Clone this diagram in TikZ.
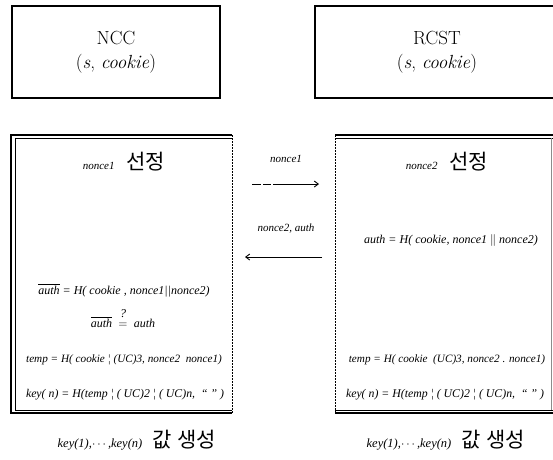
\documentclass[tikz,border=0pt]{standalone}
\usepackage{fontspec}
\usepackage{amsmath}
\newfontfamily\tms{Liberation Serif}
\newfontfamily\kr{Noto Sans CJK KR}
\usetikzlibrary{arrows.meta}
\newcommand{\krbig}[1]{{\kr\upshape\fontsize{21}{24}\selectfont #1}}
\begin{document}
\begin{tikzpicture}[x=1pt,y=-1pt,
  fml/.style={font=\tms\itshape\fontsize{12}{14}\selectfont, inner sep=0pt},
  fmls/.style={font=\tms\itshape\fontsize{11.2}{14}\selectfont, inner sep=0pt},
  fmlk/.style={font=\tms\itshape\fontsize{11.8}{14}\selectfont, inner sep=0pt},
  lbl/.style={font=\tms\itshape\fontsize{11}{13}\selectfont, inner sep=0pt},
  lblb/.style={font=\tms\itshape\fontsize{12.5}{14}\selectfont, inner sep=0pt},
  head/.style={font=\fontsize{19}{24}\selectfont, align=center, inner sep=0pt},
  arr/.style={line width=0.9pt, -{Straight Barb[length=4pt,width=6pt]}},
  outer/.style={line width=1.5pt},
  inner/.style={line width=0.9pt},
  dashedge/.style={line width=0.8pt, dash pattern=on 2pt off 1pt},
  thinedge/.style={line width=0.5pt, black!45}
]
\useasboundingbox (0,0) rectangle (553,459);

% top boxes
\node[draw, line width=2pt, minimum width=208pt, minimum height=92pt, inner sep=0pt] (ncc) at (116,52) {};
\node[head] (ncct) at (ncc.center) {NCC\\(\textit{s}, \textit{cookie})};
\draw[line width=2pt] (553,6) -| (315,98) -- (553,98);
\node[head] (rcst) at (437,52) {RCST\\(\textit{s}, \textit{cookie})};

% left big box
\draw[outer] (232,135) -- (11,135) -- (11,413) -- (232,413);
\draw[inner] (232,138) -- (15,138) -- (15,410) -- (232,410);
\draw[dashedge] (232,135) -- (232,413);

% right big box
\draw[outer] (335,135) -- (553,135);
\draw[inner] (335,138) -- (553,138);
\draw[outer] (335,413) -- (553,413);
\draw[inner] (335,410) -- (553,410);
\draw[dashedge] (335,135) -- (335,413);
\draw[thinedge] (551.5,138) -- (551.5,410);

% arrows
\coordinate (a1s) at (252,184);
\coordinate (a1e) at (319,184);
\coordinate (a2s) at (322,257);
\coordinate (a2e) at (245,257);
\draw[arr, dash pattern=on 9pt off 2pt on 8pt off 2pt on 200pt off 0pt] (a1s) -- (a1e);
\draw[arr] (a2s) -- (a2e);
\node[lbl] (m1) at (286,159) {nonce1};
\node[lbl] (m2) at (286,229) {nonce2, auth};

% left contents
\node[lbl, anchor=base] (l1) at (124,169) {nonce1\hspace{12pt}\krbig{선정}};
\node[fml] (l2) at (124,290) {$\overline{\text{auth}}$ = H( cookie , nonce1||nonce2)};
\node[fml] (l3) at (123,318) {$\overline{\text{auth}}\ \stackrel{\raisebox{3pt}{?}}{=}\ \text{auth}$};
\node[fmls] (l4) at (124,360) {temp = H( cookie ¦ (UC)3, nonce2 \ nonce1)};
\node[fmlk] (l5) at (125,395) {key( n) = H(temp ¦ ( UC)2 ¦ ( UC)n, \ “ ” )};
\node[lblb, anchor=base] (l6) at (137,447) {key(1),$\cdots$,key(n)\hspace{10pt}\krbig{값\hspace{6pt}생성}};

% right contents
\node[lbl, anchor=base] (r1) at (447,169) {nonce2\hspace{12pt}\krbig{선정}};
\node[fml] (r2) at (451,240) {auth = H( cookie, nonce1 $\|$ nonce2)};
\node[fmls] (r4) at (447,360) {temp = H( cookie \ (UC)3, nonce2 . nonce1)};
\node[fmlk] (r5) at (445,395) {key( n) = H(temp ¦ ( UC)2 ¦ ( UC)n, \ “ ” )};
\node[lblb, anchor=base] (r6) at (446,447) {key(1),$\cdots$,key(n)\hspace{10pt}\krbig{값\hspace{6pt}생성}};
\end{tikzpicture}
\end{document}
